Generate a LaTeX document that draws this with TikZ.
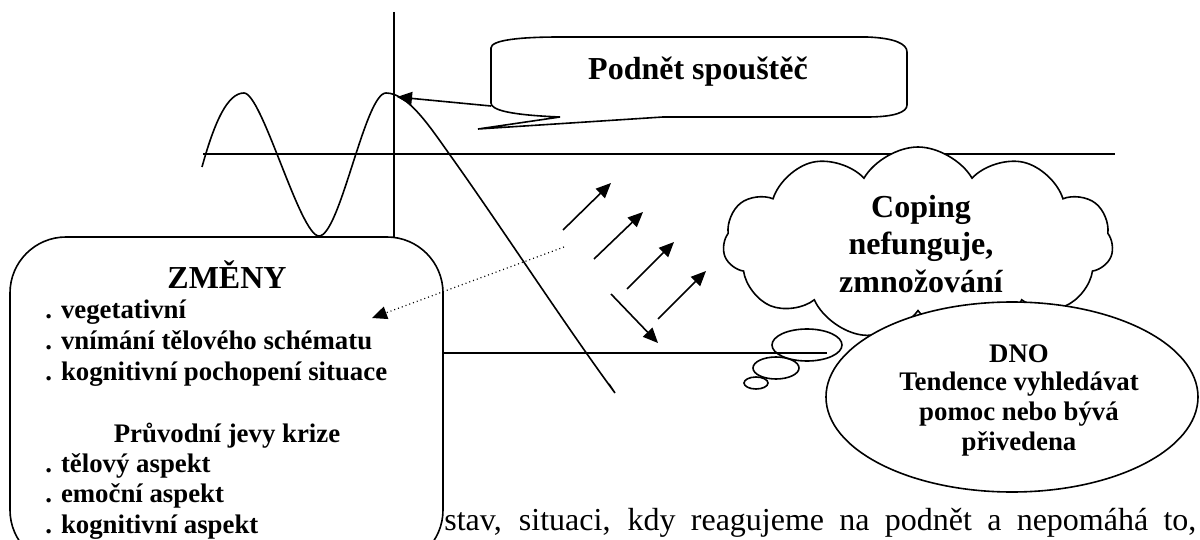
\documentclass[tikz,border=0pt]{standalone}
\usepackage{fontspec}
\setmainfont{Liberation Serif}
\usetikzlibrary{shapes.geometric,shapes.symbols,arrows.meta}
\begin{document}
\begin{tikzpicture}[x=0.5pt,y=-0.5pt,
  ln/.style={line width=0.8pt},
  tip/.style={-{Triangle[length=7.5pt,width=6.5pt]}},
  arr/.style={ln,tip},
  bt/.style={font=\bfseries\fontsize{13.4}{15}\selectfont,inner sep=0pt},
  big/.style={font=\bfseries\fontsize{16}{18.4}\selectfont,inner sep=0pt},
  item/.style={bt,anchor=base west},
  bubble/.style={ellipse,draw,ln,inner sep=0pt}
]
\useasboundingbox (0,0) rectangle (1200,540);

% axes
\coordinate (axT) at (394,12);
\coordinate (axB) at (394,237);
\draw[ln] (axT) -- (axB);
\coordinate (hL) at (203,154);
\coordinate (hR) at (1115,154);
\draw[ln] (hL) -- (hR);

% wave
\draw[ln] (202,167) .. controls (215,120) and (228,93) .. (244,93)
  .. controls (262,93) and (300,236) .. (319,236)
  .. controls (340,236) and (365,93) .. (386,93)
  .. controls (408,93) and (430,127) .. (450,155)
  .. controls (500,225) and (565,325) .. (615,393) -- (609,384);

% lower line
\coordinate (lL) at (443,353);
\coordinate (lR) at (827,353);
\draw[ln] (lL) -- (lR);

% callout
\draw[ln,fill=white] (491,48) .. controls (491,40) and (520,37) .. (560,37) -- (867,37)
  .. controls (895,38) and (907,44) .. (907,52) -- (907,105)
  .. controls (907,112) and (895,117) .. (867,117) -- (663,117) -- (478,129) -- (560,117)
  .. controls (510,115) and (491,110) .. (491,103) -- cycle;
\node[big,anchor=base] (podnet) at (698,80) {Podnět spouštěč};
\coordinate (callL) at (491,106);
\coordinate (peak) at (397,97);
\draw[arr] (callL) -- (peak);

% arrows
\coordinate (a1s) at (563,230); \coordinate (a1e) at (611,183);
\coordinate (a2s) at (594,259); \coordinate (a2e) at (643,212);
\coordinate (a3s) at (627,289); \coordinate (a3e) at (674,242);
\coordinate (a4s) at (658,319); \coordinate (a4e) at (706,271);
\coordinate (a5s) at (611,294); \coordinate (a5e) at (658,343);
\draw[arr] (a1s) -- (a1e);
\draw[arr] (a2s) -- (a2e);
\draw[arr] (a3s) -- (a3e);
\draw[arr] (a4s) -- (a4e);
\draw[arr] (a5s) -- (a5e);

% box ZMENY
\node[draw,ln,fill=white,rounded corners=28pt,minimum width=216.5pt,minimum height=164.5pt,inner sep=0pt] (zmeny) at (226.5,401.5) {};
\node[big,anchor=base] (zt) at (227,288) {ZMĚNY};
\node[item] (z1) at (45,318) {. vegetativní};
\node[item] (z2) at (45,349) {. vnímání tělového schématu};
\node[item] (z3) at (45,380) {. kognitivní pochopení situace};
\node[bt,anchor=base] (z4) at (227,442) {Průvodní jevy krize};
\node[item] (z5) at (45,472) {. tělový aspekt};
\node[item] (z6) at (45,502) {. emoční aspekt};
\node[item] (z7) at (45,533) {. kognitivní aspekt};

% dotted arrow
\coordinate (dotS) at (564,247);
\coordinate (dotE) at (372,318);
\draw[line width=0.6pt,dash pattern=on 0.5pt off 1.5pt,tip] (dotS) -- (dotE);

% cloud
\node[cloud,cloud puffs=11,cloud puff arc=120,cloud ignores aspect,draw,ln,fill=white,
  minimum width=195pt,minimum height=96pt,inner sep=0pt] (cloud) at (918,243) {};
\node[big,anchor=base] (c1) at (921,218) {Coping};
\node[big,anchor=base] (c2) at (921,255) {nefunguje,};
\node[big,anchor=base] (c3) at (921,292) {zmnožování};

% bubbles
\node[bubble,minimum width=35pt,minimum height=16pt] (b1) at (807,345) {};
\node[bubble,minimum width=23pt,minimum height=11pt] (b2) at (776,368) {};
\node[bubble,minimum width=12pt,minimum height=6pt] (b3) at (756,383) {};

% DNO ellipse
\node[ellipse,draw,ln,fill=white,minimum width=186pt,minimum height=95pt,inner sep=0pt] (dno) at (1012,397) {};
\node[bt,anchor=base] (d1) at (1019,362) {DNO};
\node[bt,anchor=base] (d2) at (1019,390) {Tendence vyhledávat};
\node[bt,anchor=base] (d3) at (1019,420) {pomoc nebo bývá};
\node[bt,anchor=base] (d4) at (1019,450) {přivedena};

% bottom text
\node[anchor=base west,inner sep=0pt,font=\fontsize{16}{18}\selectfont] (stav) at (444,530)
  {\makebox[376pt][s]{stav, situaci, kdy reagujeme na podnět a nepomáhá to,}};
\end{tikzpicture}
\end{document}
